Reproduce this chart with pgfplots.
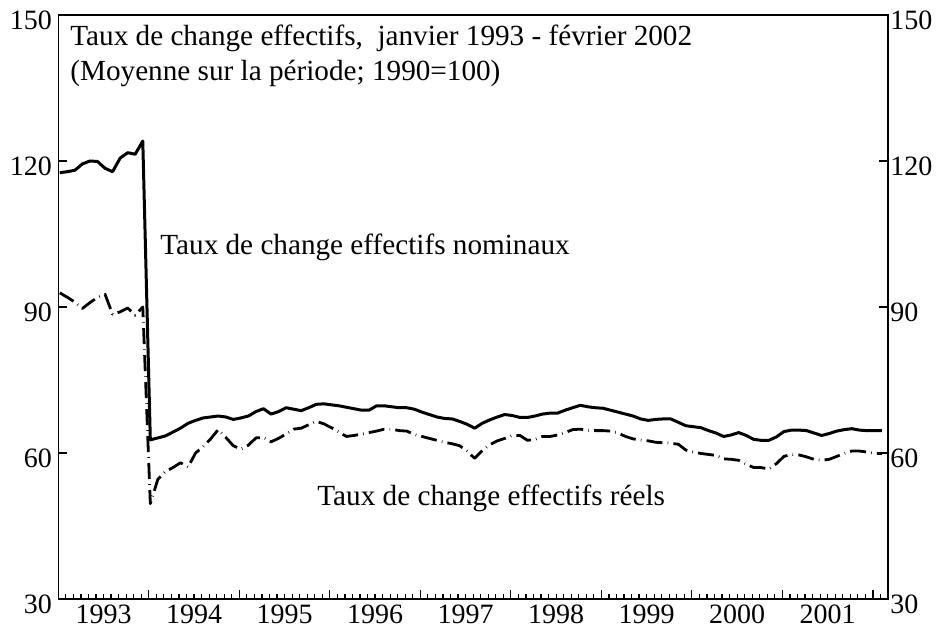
\documentclass[border=0pt]{standalone}
\usepackage{fontspec}
\setmainfont{Liberation Serif}
\usepackage{pgfplots}
\pgfplotsset{compat=1.18}
\usepackage{pgfplotstable}

\pgfplotstableread{
m nom real
0 117.6 92.9
1 117.8 92.0
2 118.1 91.0
3 119.4 89.7
4 120.0 90.9
5 119.9 92.0
6 118.5 92.6
7 117.8 88.5
8 120.6 89.0
9 121.7 89.8
10 121.4 88.3
11 124.1 90.0
12 62.7 49.6
13 63.1 54.6
14 63.5 56.2
15 64.3 57.0
16 65.1 58.0
17 66.1 57.1
18 66.7 60.0
19 67.2 61.3
20 67.4 62.9
21 67.6 64.8
22 67.4 63.2
23 66.9 61.5
24 67.2 60.8
25 67.6 61.6
26 68.5 63.1
27 69.1 63.2
28 68.0 62.3
29 68.5 63.0
30 69.3 63.9
31 69.0 64.9
32 68.7 65.1
33 69.3 65.8
34 70.0 66.5
35 70.1 66.0
36 69.9 65.2
37 69.7 64.3
38 69.4 63.4
39 69.1 63.6
40 68.8 63.9
41 68.8 64.2
42 69.7 64.5
43 69.7 64.9
44 69.5 64.9
45 69.3 64.6
46 69.3 64.5
47 69.0 63.8
48 68.4 63.4
49 67.9 63.0
50 67.4 62.6
51 67.1 62.2
52 67.0 61.9
53 66.5 61.5
54 65.9 60.4
55 65.1 58.9
56 66.1 60.5
57 66.8 61.7
58 67.4 62.5
59 67.9 63.0
60 67.7 63.6
61 67.3 63.6
62 67.3 62.6
63 67.6 62.8
64 68.0 63.4
65 68.2 63.4
66 68.2 63.7
67 68.8 64.2
68 69.3 64.8
69 69.8 64.9
70 69.5 64.7
71 69.3 64.6
72 69.2 64.6
73 68.8 64.5
74 68.4 64.1
75 68.0 63.4
76 67.6 62.9
77 67.0 62.7
78 66.7 62.5
79 66.9 62.2
80 67.0 62.1
81 67.0 62.0
82 66.3 61.8
83 65.6 60.6
84 65.4 60.2
85 65.2 59.9
86 64.6 59.7
87 64.1 59.5
88 63.4 58.8
89 63.7 58.7
90 64.2 58.5
91 63.6 57.7
92 62.8 57.0
93 62.6 57.0
94 62.6 56.7
95 63.3 57.8
96 64.4 59.3
97 64.7 59.7
98 64.7 59.6
99 64.6 59.2
100 64.1 58.7
101 63.6 58.5
102 64.0 58.7
103 64.5 59.3
104 64.8 59.9
105 65.0 60.4
106 64.7 60.4
107 64.6 60.2
108 64.6 59.9
109 64.6 59.9
}\datatable

\begin{document}
\begin{tikzpicture}
\useasboundingbox (-29.15pt,-15.5pt) rectangle (443.85pt,299.5pt);
\pgfplotsset{
  commonstyle/.style={
    scale only axis, width=414.85pt, height=292pt,
    xmin=0, xmax=110, ymin=30, ymax=150,
    axis line style={line width=0.6pt, black},
    tick align=inside,
    major tick length=4.5pt, minor tick length=2.5pt,
    tick style={line width=0.6pt, black},
    ticklabel style={font=\fontsize{14}{16}\selectfont},
    /pgf/number format/assume math mode=true,
    ytick={30,60,90,120,150},
  }
}
\begin{axis}[
  commonstyle,
  at={(0,0)}, anchor=south west,
  xtick={0,12,...,108}, xticklabels={},
  minor xtick={1,...,109},
  extra x ticks={6,18,30,42,54,66,78,90,102},
  extra x tick labels={1993,1994,1995,1996,1997,1998,1999,2000,2001},
  extra x tick style={major tick length=0pt},
  xticklabel style={yshift=-0.6pt, inner ysep=2.2pt},
  xtick pos=left,
  ytick pos=both,
  yticklabel pos=left,
  yticklabel style={inner xsep=3pt, yshift=-2.5pt},
]
\addplot[black, line width=1.5pt, line join=round] table[x expr=\thisrow{m}+0.2, y=nom] {\datatable};
\addplot[black, line width=1.4pt, line join=round, dash pattern=on 8pt off 2.6pt on 0.3pt off 2.6pt] table[x expr=\thisrow{m}+0.2, y=real] {\datatable};
\node[anchor=base west, inner sep=0pt, font=\fontsize{14.6}{17}\selectfont] at (axis cs:1.55,143.8) {Taux de change effectifs,\ \ janvier 1993 - février 2002};
\node[anchor=base west, inner sep=0pt, font=\fontsize{14.6}{17}\selectfont] at (axis cs:1.55,136.6) {(Moyenne sur la période; 1990=100)};
\node[anchor=base west, inner sep=0pt, font=\fontsize{14.6}{17}\selectfont] at (axis cs:13.48,100.7) {Taux de change effectifs nominaux};
\node[anchor=base west, inner sep=0pt, font=\fontsize{14.6}{17}\selectfont] at (axis cs:34.3,49.3) {Taux de change effectifs réels};
\end{axis}
\begin{axis}[
  commonstyle,
  at={(0,0)}, anchor=south west,
  hide x axis,
  ytick pos=right,
  yticklabel pos=right,
  yticklabel style={inner xsep=1pt, yshift=-2.5pt},
]
\addplot[draw=none] coordinates {(0,30)};
\end{axis}
\end{tikzpicture}
\end{document}
